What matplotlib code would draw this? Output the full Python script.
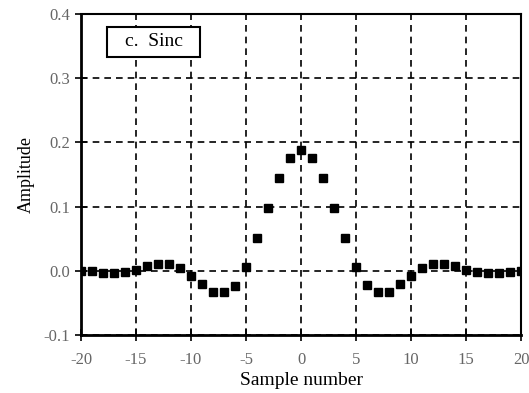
import matplotlib
matplotlib.use('Agg')
import matplotlib.pyplot as plt
from matplotlib.patches import Rectangle

# samples -20..20, values
n = list(range(-20, 21))
amp = [0.000, 0.000, -0.004, -0.004, -0.002, 0.001, 0.007, 0.011, 0.010, 0.005,
       -0.008, -0.020, -0.033, -0.033, -0.024, 0.006, 0.051, 0.098, 0.144, 0.175,
       0.188,
       0.175, 0.144, 0.098, 0.051, 0.006, -0.022, -0.033, -0.033, -0.020, -0.008,
       0.005, 0.011, 0.011, 0.008, 0.002, -0.002, -0.004, -0.004, -0.002, -0.001]
xticks = [-20, -15, -10, -5, 0, 5, 10, 15, 20]
yticks = [-0.1, 0.0, 0.1, 0.2, 0.3, 0.4]
ytick_labels = ['-0.1', '0.0', '0.1', '0.2', '0.3', '0.4']

plt.rcParams['font.family'] = ['Liberation Serif', 'DejaVu Serif']

fig = plt.figure(figsize=(5.29, 3.93), dpi=100)
ax = fig.add_axes([81/529, 1 - 335/393, 440/529, 321/393])

ax.plot(n, amp, 's', color='black', ms=6)

ax.set_xlim(-20, 20)
ax.set_ylim(-0.1, 0.4)
ax.set_xticks(xticks)
ax.set_xticklabels([str(t) for t in xticks])
ax.set_yticks(yticks)
ax.set_yticklabels(ytick_labels)
ax.grid(True, color='black', linestyle=(0, (4, 3)), linewidth=1.2)
ax.tick_params(direction='inout', length=8, width=1.2, labelsize=12)
ax.tick_params(axis='x', pad=8)
ax.tick_params(axis='y', pad=4)
for t in ax.get_xticklabels() + ax.get_yticklabels():
    t.set_color('#666666')

ax.spines['left'].set_linewidth(2)
ax.spines['bottom'].set_linewidth(2)
ax.spines['top'].set_linewidth(1.5)
ax.spines['right'].set_linewidth(1.5)

ax.set_xlabel('Sample number', fontsize=14, labelpad=3)
ax.set_ylabel('Amplitude', fontsize=13, labelpad=6)

# label box
ax.add_patch(Rectangle((-17.6, 0.333), 8.45, 0.047, fc='white', ec='black',
                       lw=1.5, zorder=3))
ax.text(-13.4, 0.357, 'c.  Sinc', fontsize=14, va='center', ha='center', zorder=4)

fig.savefig('out.png', dpi=100)
